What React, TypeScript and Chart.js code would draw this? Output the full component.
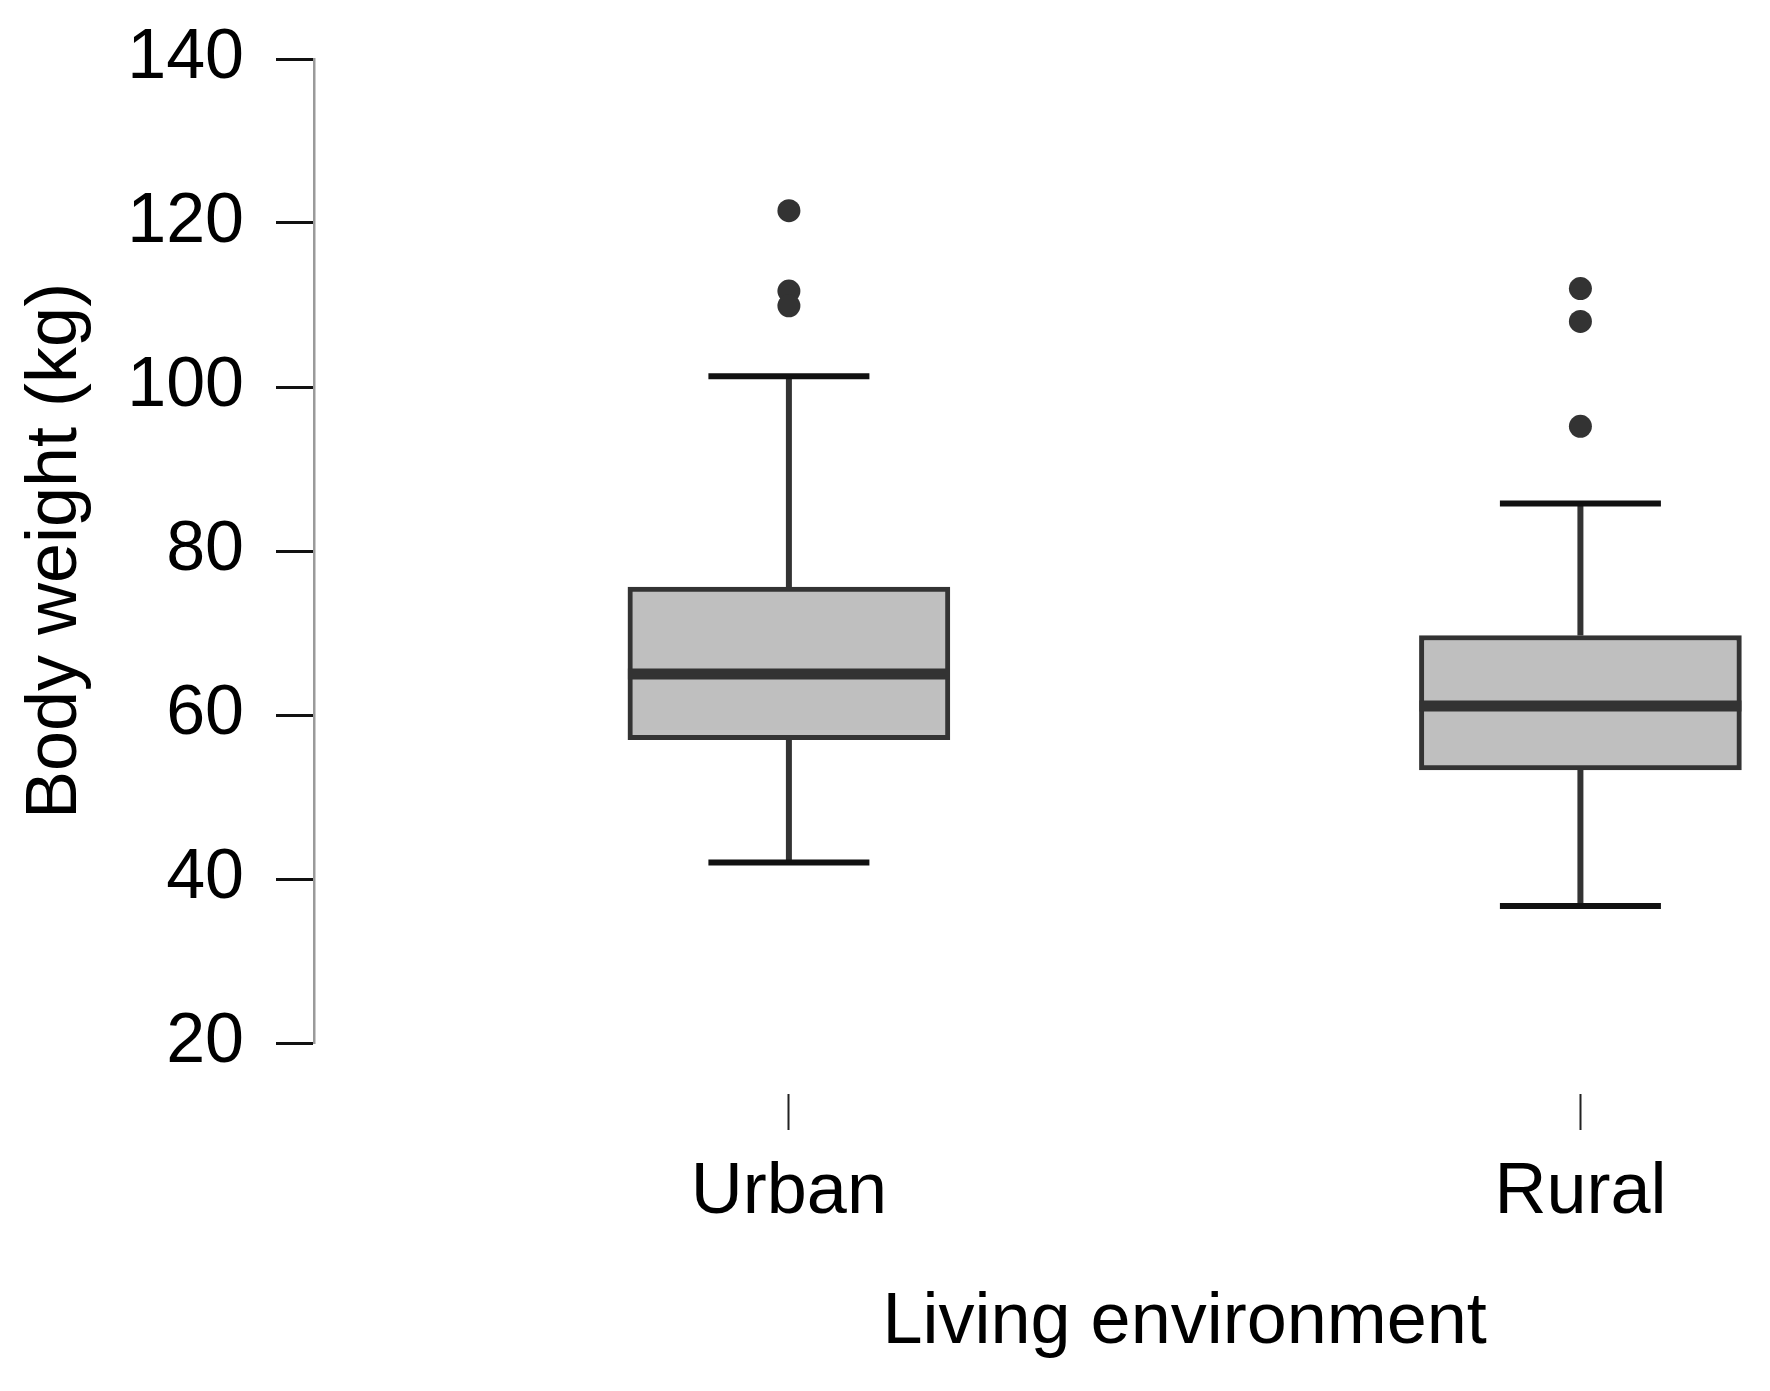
import React, { useEffect, useRef } from 'react';
import { Chart, registerables } from 'chart.js';

Chart.register(...registerables);

// ---- data ----
const categories = ['Urban', 'Rural'];
const whiskerLow = [42, 36.7];
const q1 = [57.0, 53.3];
const median = [65, 61.1];
const q3 = [75.6, 69.7];
const whiskerHigh = [101.3, 85.8];
const outliersUrban = [121.5, 111.7, 109.9];
const outliersRural = [112, 108, 95.2];
const outliers = [outliersUrban, outliersRural];
const yTicks = [20, 40, 60, 80, 100, 120, 140];
const xTitle = 'Living environment';
const yTitle = 'Body weight (kg)';

// ---- styles ----
const FAMILY = "'Liberation Sans', Arial, Helvetica, sans-serif";
const BOX_WIDTH = 322;
const CAP_WIDTH = 161;
const DARK = '#333333';

const boxExtras = {
  id: 'boxExtras',
  afterDatasetsDraw(chart: any) {
    const x = chart.scales.x;
    const y = chart.scales.y;
    const ctx = chart.ctx as CanvasRenderingContext2D;
    const line = (x1: number, y1: number, x2: number, y2: number) => {
      ctx.beginPath();
      ctx.moveTo(x1, y1);
      ctx.lineTo(x2, y2);
      ctx.stroke();
    };
    ctx.save();
    ctx.lineCap = 'butt';
    categories.forEach((_, i) => {
      const cx = x.getPixelForValue(i + 1);
      const yHi = y.getPixelForValue(whiskerHigh[i]);
      const yLo = y.getPixelForValue(whiskerLow[i]);
      const yQ1 = y.getPixelForValue(q1[i]);
      const yQ3 = y.getPixelForValue(q3[i]);
      const yMed = y.getPixelForValue(median[i]);
      // whiskers
      ctx.strokeStyle = DARK;
      ctx.lineWidth = 6;
      line(cx, yQ3, cx, yHi);
      line(cx, yQ1, cx, yLo);
      // caps
      ctx.strokeStyle = '#111111';
      ctx.lineWidth = 6;
      line(cx - CAP_WIDTH / 2, yHi, cx + CAP_WIDTH / 2, yHi);
      line(cx - CAP_WIDTH / 2, yLo, cx + CAP_WIDTH / 2, yLo);
      // median
      ctx.strokeStyle = DARK;
      ctx.lineWidth = 11;
      line(cx - BOX_WIDTH / 2, yMed, cx + BOX_WIDTH / 2, yMed);
    });
    // x-axis title centred between the categories
    const mid = (x.getPixelForValue(1) + x.getPixelForValue(categories.length)) / 2;
    ctx.fillStyle = '#000';
    ctx.font = `72px ${FAMILY}`;
    ctx.textAlign = 'center';
    ctx.textBaseline = 'alphabetic';
    ctx.fillText(xTitle, mid, chart.chartArea.bottom + 300);
    ctx.restore();
  },
};

export default function App() {
  const ref = useRef<HTMLCanvasElement>(null);

  useEffect(() => {
    document.body.style.margin = '0';
    const canvas = ref.current!;
    const outlierPoints: { x: number; y: number }[] = [];
    outliers.forEach((arr, i) => arr.forEach((v) => outlierPoints.push({ x: i + 1, y: v })));

    const chart = new Chart(canvas, {
      type: 'bar',
      data: {
        datasets: [
          {
            type: 'scatter',
            label: 'Outliers',
            data: outlierPoints,
            pointRadius: 11.5,
            pointBackgroundColor: DARK,
            pointBorderColor: DARK,
            pointBorderWidth: 0,
            order: 1,
          } as any,
          {
            type: 'bar',
            label: 'Box',
            data: categories.map((_, i) => ({ x: i + 1, y: [q1[i], q3[i]] })),
            backgroundColor: '#bfbfbf',
            borderColor: DARK,
            borderWidth: 5,
            borderSkipped: false,
            barThickness: BOX_WIDTH,
            grouped: false,
            order: 2,
          } as any,
        ],
      },
      options: {
        animation: false,
        responsive: false,
        devicePixelRatio: 1,
        layout: { padding: { top: 59, right: 10, bottom: 0, left: 0 } },
        plugins: { legend: { display: false }, tooltip: { enabled: false } },
        scales: {
          x: {
            type: 'linear',
            position: 'bottom',
            min: 0.4,
            max: 2.225,
            offset: false,
            afterBuildTicks: (s: any) => {
              s.ticks = categories.map((_, i) => ({ value: i + 1 }));
            },
            afterFit: (s: any) => {
              s.height = 348;
            },
            ticks: {
              callback: (v: any) => categories[Number(v) - 1] ?? '',
              font: { family: FAMILY, size: 72 },
              color: '#000',
              padding: 20,
              maxRotation: 0,
              autoSkip: false,
            },
            grid: {
              display: true,
              offset: false,
              drawOnChartArea: false,
              drawTicks: true,
              tickLength: 87,
              tickColor: '#222',
              tickWidth: 2,
              tickBorderDash: [0, 51, 36, 300],
            },
            border: { display: false },
          } as any,
          y: {
            type: 'linear',
            min: 20,
            max: 140,
            afterBuildTicks: (s: any) => {
              s.ticks = yTicks.map((v) => ({ value: v }));
            },
            afterFit: (s: any) => {
              s.width = 314;
              s.paddingTop = 0;
              s.paddingBottom = 0;
            },
            ticks: {
              font: { family: FAMILY, size: 70 },
              color: '#000',
              padding: 32,
            },
            grid: {
              display: true,
              drawOnChartArea: false,
              drawTicks: true,
              tickLength: 38,
              tickColor: '#111',
              tickWidth: 3,
            },
            border: { display: true, color: '#9a9a9a', width: 2.5 },
            title: {
              display: true,
              text: yTitle,
              font: { family: FAMILY, size: 72 },
              color: '#000',
              padding: { top: 13, bottom: 0 },
            },
          } as any,
        },
      },
      plugins: [boxExtras],
    });
    return () => chart.destroy();
  }, []);

  return <canvas ref={ref} width={1770} height={1391} style={{ display: 'block' }} />;
}
